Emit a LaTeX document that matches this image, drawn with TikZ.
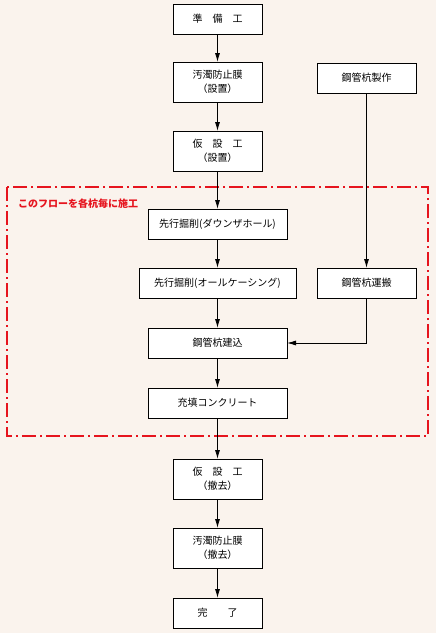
\documentclass[tikz,border=0pt]{standalone}
\usepackage{fontspec}
\setmainfont{Noto Sans CJK JP}
\usepackage{tikz}
\usetikzlibrary{arrows.meta,positioning}
\definecolor{paper}{RGB}{250,243,237}
\definecolor{flowred}{RGB}{230,20,30}

\begin{document}
\begin{tikzpicture}[
    node distance=29pt,
    block/.style={rectangle, draw, fill=white, line width=0.8pt, outer sep=0pt, minimum width=89pt, minimum height=30pt, align=center, font=\fontsize{10}{14}\selectfont},
    tall/.style={minimum height=40pt},
    arrow/.style={-{Latex[length=9pt,width=5pt]}, line width=0.8pt},
    frame/.style={draw=flowred, line width=2pt, dash pattern=on 14pt off 4pt on 2pt off 4pt}
]
\useasboundingbox[fill=paper] (0pt,0pt) rectangle (436pt,-633pt);

% main column
\node[block] (prep) at (217.5pt,-19pt) {準　備　工};
\node[block, tall, below=28pt of prep] (fenceset) {汚濁防止膜\\（設置）};
\node[block, tall, below=of fenceset] (tempset) {仮　設　工\\（設置）};
\node[block, minimum width=139pt, below=38pt of tempset] (dth) {先行掘削(ダウンザホール)};
\node[block, minimum width=157pt, below=of dth] (casing) {先行掘削(オールケーシング)};
\node[block, minimum width=139pt, below=30pt of casing] (driving) {鋼管杭建込};
\node[block, minimum width=139pt, below=30pt of driving] (concrete) {充填コンクリート};
\node[block, tall, below=41pt of concrete] (tempoff) {仮　設　工\\（撤去）};
\node[block, tall, below=of tempoff] (fenceoff) {汚濁防止膜\\（撤去）};
\node[block, below=30pt of fenceoff] (done) {完　　了};

% pile supply
\node[block, minimum width=99pt] (make) at (366.5pt,-78pt) {鋼管杭製作};
\node[block, minimum width=99pt, below=175pt of make] (carry) {鋼管杭運搬};

% repeated part
\draw[frame] (7pt,-187pt) rectangle (428pt,-436pt);
\node[anchor=west, text=flowred, font=\fontsize{10}{12}\selectfont\bfseries, inner sep=0pt] (note) at (18pt,-204pt) {このフローを各杭毎に施工};

\draw[arrow] (prep) -- (fenceset);
\draw[arrow] (fenceset) -- (tempset);
\draw[arrow] (tempset) -- (dth);
\draw[arrow] (dth) -- (casing);
\draw[arrow] (casing) -- (driving);
\draw[arrow] (driving) -- (concrete);
\draw[arrow] (concrete) -- (tempoff);
\draw[arrow] (tempoff) -- (fenceoff);
\draw[arrow] (fenceoff) -- (done);
\draw[arrow] (make) -- (carry);
\draw[arrow] (carry.south) |- (driving.east);
\end{tikzpicture}
\end{document}
